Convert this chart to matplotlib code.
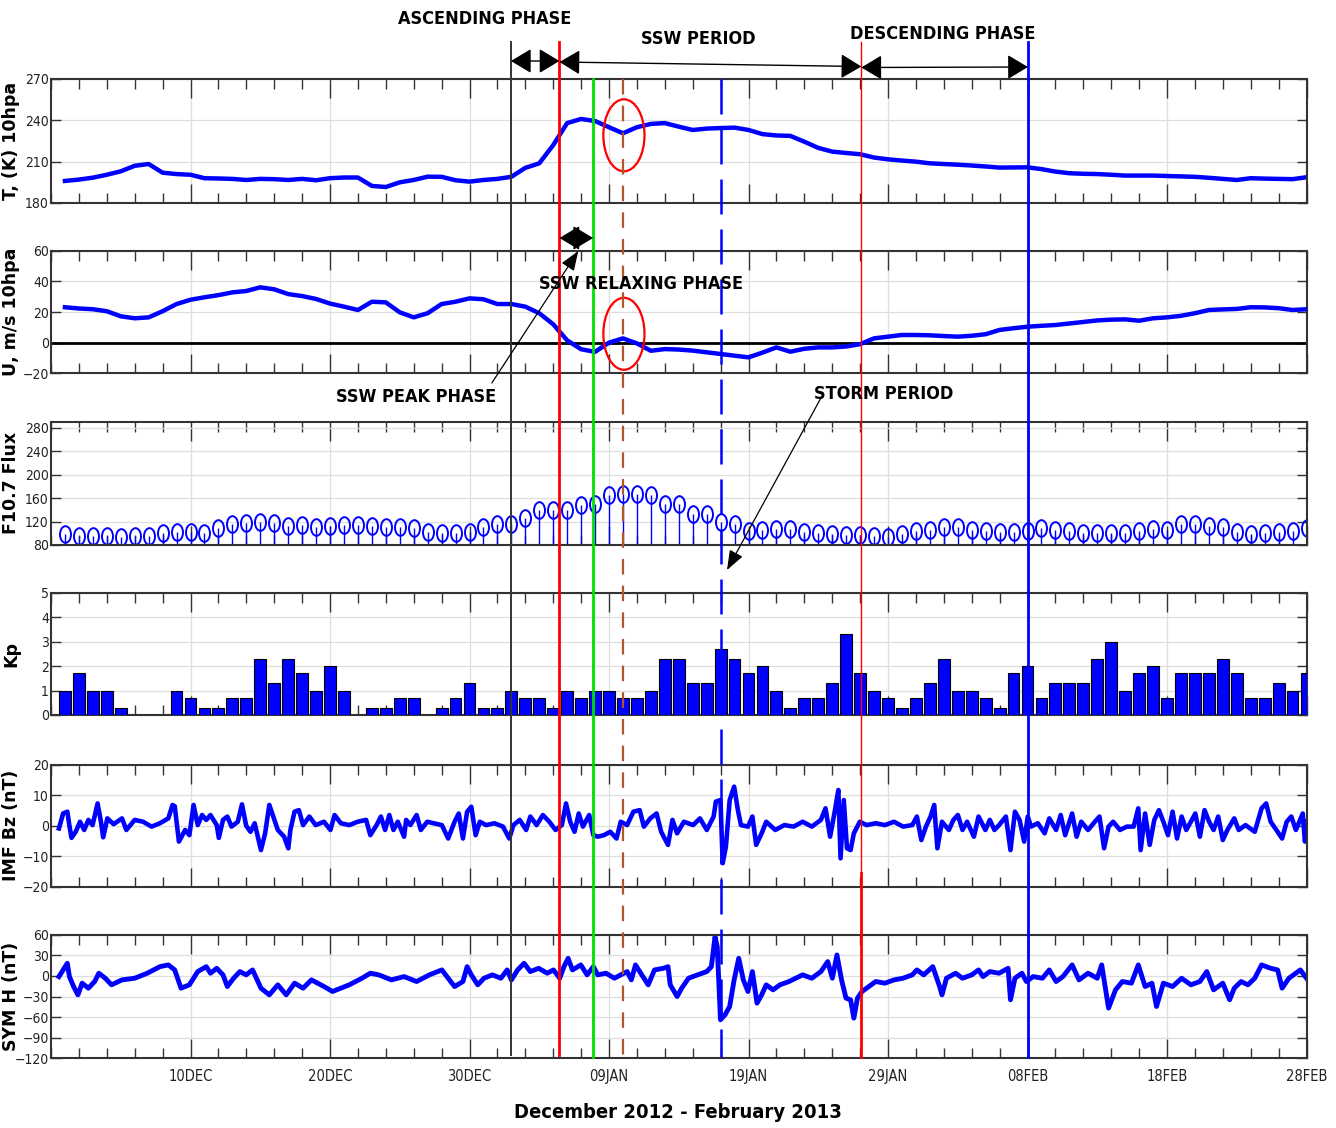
import numpy as np
import matplotlib.pyplot as plt
from matplotlib.path import Path
from matplotlib.markers import MarkerStyle
from matplotlib.transforms import Affine2D
from matplotlib.patches import Ellipse
from matplotlib.ticker import MultipleLocator

# Time axis in days counted from 30 Nov 2012 (1 Dec = 1, 28 Feb = 90)
days = np.arange(1, 91)

temp_10hpa = [196, 197, 198.4, 200.5, 203, 207, 208.3, 202, 201, 200.5,
              198, 197.8, 197.5, 196.7, 197.5, 197.3, 196.7, 197.5, 196.5, 198,
              198.5, 198.5, 192.4, 191.6, 195, 196.7, 199.1, 199, 196.5, 195.5,
              196.7, 197.5, 199, 205.5, 208.8, 222, 238, 241, 239.5, 235,
              230.6, 235, 237.4, 238, 235.4, 233, 234, 234.4, 234.7, 233,
              230, 229, 228.7, 224.5, 220, 217.3, 216.3, 215.4, 213, 211.7,
              210.8, 210, 208.8, 208.3, 207.8, 207.2, 206.5, 205.7, 205.8, 205.9,
              204.6, 202.8, 201.6, 201.2, 201, 200.5, 199.9, 199.9, 199.9, 199.6,
              199.3, 199, 198.3, 197.5, 196.7, 198, 197.7, 197.5, 197.3, 198.7]

u_10hpa = [23.1, 22.3, 21.8, 20.5, 17.2, 15.9, 16.5, 20.5, 25.2, 28,
           29.6, 31, 32.8, 33.7, 36.1, 34.8, 31.7, 30.4, 28.5, 25.5,
           23.5, 21.3, 26.7, 26.3, 19.8, 16.5, 19.2, 25.2, 26.7, 28.9,
           28.3, 25.2, 25.2, 23.5, 19.2, 12, 1.5, -4.3, -6, 0,
           2.8, -0.5, -5.3, -4.2, -4.5, -5.2, -6.3, -7.4, -8.5, -9.6,
           -6.5, -3.1, -5.9, -4, -3.1, -3.1, -2.5, -1.0, 2.8, 3.9,
           5, 5, 4.8, 4.3, 3.9, 4.5, 5.5, 8.3, 9.4, 10.4,
           11, 11.5, 12.5, 13.5, 14.5, 15, 15.2, 14.3, 15.9, 16.5,
           17.5, 19.2, 21.3, 21.7, 22, 23.1, 23, 22.5, 21.3, 21.8]

f107 = [98.6, 95.8, 95.8, 95.8, 94, 95.8, 95.8, 99.8, 102.5, 102.5,
        99.8, 109.3, 115, 116.7, 119.5, 116.7, 112, 113.8, 111, 112.5,
        113.8, 113.8, 112.5, 111, 111, 108.7, 102.5, 101, 99.8, 102.5,
        111, 115, 116, 126, 140.3, 140.3, 139, 147.6, 150.4, 165.7,
        167.4, 166.2, 165, 150.4, 150.4, 133.6, 133.6, 119.5, 115.5, 103.7,
        105.4, 106.5, 107.6, 102.5, 101, 98.6, 97, 97, 95.2, 94,
        98, 103.7, 105.4, 111, 111, 105.4, 104.3, 102.5, 102.5, 104.3,
        108.2, 105.4, 104.3, 100.8, 99.8, 99.8, 99.8, 104.3, 106.5, 105.4,
        115, 115, 112, 111, 102.5, 98.6, 99.8, 102.5, 104.3, 108.7]

kp = [1.0, 1.7, 1.0, 1.0, 0.3, 0, 0, 0, 1.0, 0.7,
      0.3, 0.3, 0.7, 0.7, 2.3, 1.3, 2.3, 1.7, 1.0, 2.0,
      1.0, 0, 0.3, 0.3, 0.7, 0.7, 0, 0.3, 0.7, 1.3,
      0.3, 0.3, 1.0, 0.7, 0.7, 0.3, 1.0, 0.7, 1.0, 1.0,
      0.7, 0.7, 1.0, 2.3, 2.3, 1.3, 1.3, 2.7, 2.3, 1.7,
      2.0, 1.0, 0.3, 0.7, 0.7, 1.3, 3.3, 1.7, 1.0, 0.7,
      0.3, 0.7, 1.3, 2.3, 1.0, 1.0, 0.7, 0.3, 1.7, 2.0,
      0.7, 1.3, 1.3, 1.3, 2.3, 3.0, 1.0, 1.7, 2.0, 0.7,
      1.7, 1.7, 1.7, 2.3, 1.7, 0.7, 0.7, 1.3, 1.0, 1.7]

bz_day = [0.57, 0.87, 1.17, 1.32, 1.47, 1.77, 2.08, 2.38, 2.68, 2.98,
          3.34, 3.58, 3.74, 4.04, 4.49, 5.09, 5.40, 6.0, 6.60, 7.21,
          7.81, 8.41, 8.71, 8.87, 9.17, 9.62, 9.92, 10.22, 10.52, 10.83,
          11.13, 11.43, 11.88, 12.03, 12.33, 12.64, 12.94, 13.39, 13.69, 13.99,
          14.30, 14.60, 15.05, 15.35, 15.65, 16.26, 16.71, 17.01, 17.16, 17.46,
          17.77, 18.07, 18.52, 18.97, 19.57, 20.03, 20.33, 20.78, 21.38, 21.99,
          22.59, 22.89, 23.34, 23.65, 23.95, 24.25, 24.55, 24.86, 25.31, 25.46,
          25.76, 26.21, 26.51, 26.97, 27.42, 28.02, 28.47, 28.93, 29.23, 29.53,
          29.83, 30.13, 30.44, 30.74, 31.19, 31.79, 32.40, 32.85, 33.15, 33.60,
          34.06, 34.36, 34.81, 35.26, 35.72, 36.17, 36.62, 36.92, 37.22, 37.53,
          37.83, 38.13, 38.58, 38.88, 39.19, 39.64, 40.09, 40.54, 40.84, 41.30,
          41.75, 42.20, 42.50, 42.96, 43.41, 43.74, 44.23, 44.55, 44.88, 45.37,
          46.03, 46.52, 47.01, 47.50, 47.66, 47.99, 48.15, 48.38, 48.65, 48.97,
          49.24, 49.46, 49.96, 50.28, 50.55, 50.94, 51.27, 51.92, 52.57, 53.23,
          53.88, 54.54, 55.19, 55.52, 55.85, 56.18, 56.44, 56.60, 56.83, 57.06,
          57.32, 57.55, 57.98, 58.47, 59.12, 59.78, 60.43, 61.08, 61.74, 62.07,
          62.39, 62.72, 63.05, 63.31, 63.54, 63.87, 64.36, 64.69, 65.01, 65.34,
          65.67, 66.16, 66.49, 66.98, 67.30, 67.63, 67.96, 68.45, 68.78, 69.10,
          69.43, 69.76, 70.02, 70.25, 70.74, 71.23, 71.56, 72.05, 72.38, 72.70,
          73.20, 73.52, 73.85, 74.34, 74.83, 75.16, 75.49, 75.81, 76.14, 76.63,
          77.12, 77.61, 77.94, 78.11, 78.43, 78.76, 79.09, 79.42, 79.74, 80.07,
          80.40, 80.72, 81.05, 81.38, 81.71, 82.03, 82.36, 82.69, 83.02, 83.34,
          83.67, 84.00, 84.33, 84.82, 85.14, 85.63, 86.29, 86.78, 87.11, 87.43,
          87.93, 88.25, 88.58, 88.91, 89.24, 89.73, 89.89, 90.0]
bz_val = [-0.9, 4, 4.6, 0, -4, -2, 1.3, -1.4, 1.9, 0.2,
          7.3, 1.3, -3.8, 2.4, 0.5, 2.4, -1.4, 1.9, 1.3, -0.3,
          0.8, 2.4, 6.8, 6.4, -5.2, -1.4, -3.1, 6.8, 0.2, 3.5,
          1.9, 3.5, 0.2, -4, 1.9, 3, -0.3, 1.3, 7, 0,
          -2, 0.8, -8, -2.5, 6.8, -1.4, -3.6, -7.4, -1.4, 4.6,
          5.1, 0.2, 3, 0.2, 1.3, -1.4, 3.5, 0.8, 0.2, 1.3,
          1.9, -3.1, 0.2, 3, -1.4, 3.5, -1.4, 1.3, -3.6, 1.9,
          0.2, 3.5, -1.4, 1.3, 0.8, 0.2, -4.2, 1.3, 4, -4.2,
          4.6, 6.2, -3.1, 1.3, 0.2, 0.8, -0.3, -4.2, 0.2, 1.9,
          -1.4, 3, 0.2, 3.5, 1.3, -1.4, 0.2, 7.3, 1.3, -2,
          4, -0.3, 3.5, -3.1, -3.6, -3.1, -2, -4.2, 1.3, 0.2,
          4.6, 5.1, -0.3, 2.4, 4, -2, -6.3, 1.9, -2.5, 1.3,
          0.2, 2.4, -1.4, 3, 7.9, 8.4, -12.3, -6.9, 8.4, 12.8,
          5.1, 0.2, -0.3, 3, -6.3, -2.5, 1.3, -1.4, 0.2, -0.3,
          1.3, -0.3, 1.9, 5.7, -3.6, 4.6, 11.7, -10.7, 8.4, -7.4,
          -8, -2.5, 1.3, 0.2, 0.8, 0.2, 1.3, -0.3, 0.2, 3,
          -4.7, -0.3, 3, 6.8, -7.4, 1.3, -1.4, 1.9, 3.5, -1.4,
          1.3, -3.6, 3, -1.4, 1.9, -1.4, 0.2, 3, -8, 4.6,
          1.9, -5.2, 3, -0.3, 0.8, -2.5, 2.4, -1.4, 3.5, -3.1,
          4, -3.6, 1.3, -1.4, 1.3, 3, -7.4, -0.3, 1.3, -1.4,
          -0.3, -0.3, 5.7, -8, 4, -6.3, 1.9, 5.1, 1.3, -3.1,
          4.6, -4.2, 3, -1.4, 1.3, 4, -3.6, 5.1, 1.3, -1.4,
          3, -4.7, -1.4, 2.4, -1.4, 0.2, -2, 5.7, 7.3, 1.3,
          -2, -4.2, 1.3, 3, -1.4, 4, -5.2, 1.3]

symh_day = [0.57, 0.87, 1.17, 1.32, 1.62, 1.93, 2.23, 2.68, 3.13, 3.43,
            3.89, 4.34, 5.09, 6.0, 6.90, 7.81, 8.41, 8.87, 9.32, 9.92,
            10.52, 11.13, 11.43, 11.88, 12.33, 12.64, 13.09, 13.54, 13.99, 14.45,
            15.05, 15.65, 16.26, 16.86, 17.46, 18.07, 18.67, 19.57, 20.18, 20.78,
            21.38, 22.29, 22.89, 23.50, 24.40, 25.31, 26.21, 27.12, 28.02, 28.47,
            28.93, 29.53, 29.83, 30.13, 30.59, 31.04, 31.64, 32.25, 32.70, 33.00,
            33.45, 33.91, 34.36, 34.96, 35.57, 36.02, 36.47, 36.77, 37.07, 37.38,
            37.98, 38.43, 38.88, 39.19, 39.79, 40.39, 40.84, 41.30, 41.60, 41.90,
            42.35, 42.81, 43.26, 43.90, 44.23, 44.39, 44.88, 45.21, 45.70, 46.35,
            47.01, 47.34, 47.60, 47.76, 47.99, 48.32, 48.65, 48.97, 49.30, 49.63,
            49.96, 50.28, 50.61, 50.94, 51.27, 51.76, 52.25, 52.90, 53.39, 53.88,
            54.54, 55.19, 55.68, 56.01, 56.34, 56.67, 56.99, 57.32, 57.55, 57.81,
            58.14, 58.63, 59.12, 59.78, 60.43, 61.08, 61.74, 62.07, 62.56, 63.21,
            63.70, 63.87, 64.19, 64.85, 65.34, 66.0, 66.49, 66.81, 67.30, 67.96,
            68.61, 68.78, 69.10, 69.60, 69.92, 70.41, 71.07, 71.56, 72.05, 72.54,
            73.20, 73.69, 74.34, 75.0, 75.32, 75.81, 76.31, 76.80, 77.45, 77.94,
            78.43, 78.92, 79.25, 79.74, 80.40, 81.05, 81.71, 82.36, 82.85, 83.34,
            84.0, 84.49, 84.82, 85.31, 85.80, 86.29, 86.78, 87.43, 87.93, 88.25,
            88.74, 89.24, 89.56, 90.0]
symh_val = [-1, 8.7, 18.4, -1, -15.5, -27.6, -10.6, -17.9, -8.2, 3.9,
            -3.4, -13, -5.8, -3.4, 3.9, 13.5, 16, 8.7, -17.9, -13,
            6.3, 13.5, 3.9, 11.1, 1.5, -15.5, -3.4, 6.3, 1.5, 8.7,
            -17.9, -27.6, -13, -27.6, -10.6, -17.9, -5.8, -15.5, -22.7, -17.9,
            -13, -3.4, 3.9, 1.5, -5.8, -1, -8.2, 1.5, 8.7, -3.4,
            -15.5, -8.2, 13.5, 1.5, -13, -3.4, 1.5, -3.4, 8.7, -5.8,
            8.7, 18.4, 6.3, 11.1, 3.9, 8.7, -3.4, 13.5, 25.6, 8.7,
            16, 1.5, 13.5, 1.5, 3.9, -3.4, 1.5, 6.3, -5.8, 16,
            1.5, -13, 8.7, 11.1, 13.5, -13, -30, -17.9, -3.4, 1.5,
            6.3, 13.5, 57, 42.6, -63.9, -56.6, -44.5, -5.8, 25.6, -5.8,
            -22.7, 6.3, -39.7, -27.6, -13, -20.3, -13, -8.2, -3.4, 1.5,
            -3.4, 6.3, 20.8, -3.4, 30.5, -5.8, -32.4, -34.8, -61.5, -32.4,
            -22.7, -15.5, -8.2, -10.6, -5.8, -3.4, 1.5, 8.7, 1.5, 13.5,
            -15.5, -27.6, -3.4, 3.9, -3.4, 1.5, 8.7, -1, 6.3, 3.9,
            11.1, -34.8, -3.4, 3.9, -8.2, -1, -3.4, 8.7, -8.2, -1,
            16, -5.8, 3.9, -3.4, 16, -46.9, -20.3, -8.2, -10.6, 16,
            -15.5, -10.6, -44.5, -10.6, -15.5, -3.4, -13, -8.2, 6.3, -20.3,
            -10.6, -34.8, -17.9, -8.2, -13, -3.4, 16, 11.1, 8.7, -17.9,
            -3.4, 3.9, 8.7, -3.4]

tick_days = [10, 20, 30, 40, 50, 60, 70, 80, 90]
tick_labels = ['10DEC', '20DEC', '30DEC', '09JAN', '19JAN', '29JAN',
               '08FEB', '18FEB', '28FEB']

# Event dates (days) marked by vertical lines across all panels
asc_start, ssw_onset, ssw_peak, ssw_relax = 32.97, 36.45, 38.86, 40.97
storm_day, ssw_end, desc_end = 48.02, 58.09, 70.03

NARROW = dict(family='DejaVu Sans', stretch='condensed')
BLUE = '#0000ff'

W_PX, H_PX = 1336, 1128
fig = plt.figure(figsize=(W_PX / 100, H_PX / 100), dpi=100)

x_left, x_right = 51, 1306.5
panel_px = [(79, 203), (250.7, 373.3), (421.7, 545), (592.7, 715),
            (764.7, 886.7), (934.7, 1058.3)]
axes = []
for top, bot in panel_px:
    ax = fig.add_axes([x_left / W_PX, 1 - bot / H_PX,
                       (x_right - x_left) / W_PX, (bot - top) / H_PX])
    axes.append(ax)

ax_t, ax_u, ax_f, ax_kp, ax_bz, ax_sym = axes

ax_t.plot(days, temp_10hpa, color=BLUE, lw=3.2)
ax_t.set_ylim(180, 270)
ax_t.set_yticks([180, 210, 240, 270])
ax_t.set_ylabel('T, (K) 10hpa')

ax_u.plot(days, u_10hpa, color=BLUE, lw=3.2, zorder=3)
ax_u.axhline(0, color='k', lw=2, zorder=2)
ax_u.set_ylim(-20, 60)
ax_u.set_yticks([-20, 0, 20, 40, 60])
ax_u.set_ylabel('U, m/s 10hpa')

ell_marker = MarkerStyle(Path.unit_circle().transformed(Affine2D().scale(0.66, 1.0)))
ax_f.vlines(days, 80, f107, color=BLUE, lw=1)
ax_f.plot(days, f107, ls='none', marker=ell_marker, ms=12, mfc='none',
          mec=BLUE, mew=1.4)
ax_f.set_ylim(80, 290)
ax_f.set_yticks(range(80, 281, 40))
ax_f.set_ylabel('F10.7 Flux')

ax_kp.bar(days, kp, width=0.85, color=BLUE, edgecolor='k', lw=0.8, zorder=3)
ax_kp.set_ylim(0, 5)
ax_kp.set_yticks(range(0, 6))
ax_kp.set_ylabel('Kp')

ax_bz.plot(bz_day, bz_val, color=BLUE, lw=3.3)
ax_bz.set_ylim(-20, 20)
ax_bz.set_yticks([-20, -10, 0, 10, 20])
ax_bz.set_ylabel('IMF Bz (nT)')

ax_sym.plot(symh_day, symh_val, color=BLUE, lw=3.5)
ax_sym.set_ylim(-120, 60)
ax_sym.set_yticks(range(-120, 61, 30))
ax_sym.set_ylabel('SYM H (nT)')

for ax in axes:
    ax.set_xlim(0, 90)
    ax.set_xticks(tick_days)
    ax.xaxis.set_minor_locator(MultipleLocator(2))
    ax.grid(True, which='major', color='#dedede', lw=0.9, zorder=0)
    ax.set_axisbelow(True)
    ax.tick_params(axis='x', which='major', direction='in', top=True,
                   bottom=True, length=14, width=1, color='#333333')
    ax.tick_params(axis='x', which='minor', direction='in', top=True,
                   bottom=True, length=7, width=1, color='#333333')
    ax.tick_params(axis='y', direction='in', left=True, right=True,
                   length=7, width=1, color='#333333', pad=1.5)
    for sp in ax.spines.values():
        sp.set_linewidth(1.5)
        sp.set_color('#333333')
    for lab in ax.get_yticklabels():
        lab.set_family(NARROW['family'])
        lab.set_stretch(NARROW['stretch'])
        lab.set_fontsize(10)
        lab.set_color('#222222')
    ax.yaxis.label.set_fontsize(12.5)
    ax.yaxis.label.set_fontweight('bold')
    ax.yaxis.set_label_coords(-0.0245, 0.5)
    if ax is not ax_sym:
        ax.set_xticklabels([])

ax_sym.set_xticklabels(tick_labels, fontsize=10.5, color='#222222', **NARROW)
ax_sym.tick_params(axis='x', pad=8)

# Overlay: x in days, y in figure pixels from the top
ov = fig.add_axes([x_left / W_PX, 0, (x_right - x_left) / W_PX, 1], zorder=10)
ov.set_xlim(0, 90)
ov.set_ylim(H_PX, 0)
ov.axis('off')
ov.patch.set_alpha(0)

ov.plot([asc_start] * 2, [42, 1055], color='#333333', lw=1.4)
ov.plot([ssw_onset] * 2, [42, 1055], color='red', lw=2)
ov.plot([ssw_peak] * 2, [79, 1057], color='#00e000', lw=2)
ov.plot([ssw_relax] * 2, [79, 1057], color='#b5542a', lw=1.6, dashes=(7, 5))
ov.plot([storm_day] * 2, [79, 1057], color=BLUE, lw=1.8, dashes=(14, 6))
ov.plot([ssw_end] * 2, [42, 873], color='red', lw=1)
ov.plot([ssw_end] * 2, [873, 1057], color='red', lw=2)
ov.plot([desc_end] * 2, [42, 1057], color=BLUE, lw=2)

for yc in (135.3, 333.8):
    ov.add_patch(Ellipse((ssw_relax + 0.1, yc), 2.95, 72, fill=False,
                         edgecolor='red', lw=1.6))

head = '<|-|>,head_length=0.75,head_width=0.45'
for x0, y0, x1, y1 in [(asc_start, 61, ssw_onset, 61),
                       (ssw_onset, 62, ssw_end, 66.5),
                       (ssw_end, 67.5, desc_end, 67),
                       (ssw_onset, 238, ssw_peak, 238)]:
    ov.annotate('', xy=(x1, y1), xytext=(x0, y0),
                arrowprops=dict(arrowstyle=head, color='k', lw=1,
                                mutation_scale=17, shrinkA=0, shrinkB=0))

for x0, y0, x1, y1 in [(31.6, 383, 37.8, 251),
                       (55.19, 398, 48.46, 570)]:
    ov.annotate('', xy=(x1, y1), xytext=(x0, y0),
                arrowprops=dict(arrowstyle='-|>,head_length=0.8,head_width=0.3',
                                color='k', lw=0.9, mutation_scale=15,
                                shrinkA=0, shrinkB=0))

label_kw = dict(fontweight='bold', fontsize=13, ha='center', va='center',
                color='k', **NARROW)
ov.text(31.11, 19, 'ASCENDING PHASE', **label_kw)
ov.text(46.38, 39.5, 'SSW PERIOD', **label_kw)
ov.text(63.91, 34, 'DESCENDING PHASE', **label_kw)
ov.text(42.29, 284, 'SSW RELAXING PHASE', **label_kw)
ov.text(26.16, 397, 'SSW PEAK PHASE', **label_kw)
ov.text(59.71, 394, 'STORM PERIOD', **label_kw)
ov.text(44.95, 1112, 'December 2012 - February 2013',
        **dict(label_kw, fontsize=14.5))

plt.savefig('out.png', dpi=100)
